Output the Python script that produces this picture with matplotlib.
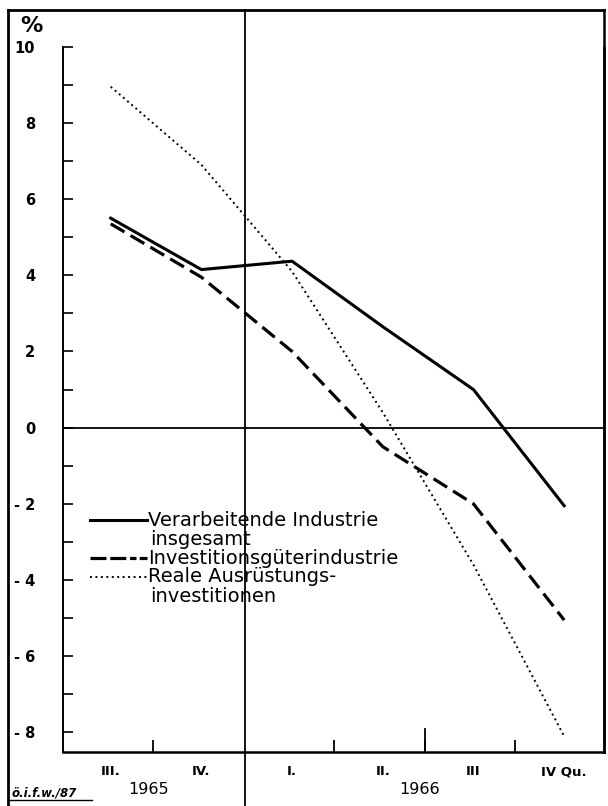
import matplotlib
matplotlib.use("Agg")
import matplotlib.pyplot as plt
from matplotlib.lines import Line2D
from matplotlib.ticker import FixedLocator, FixedFormatter
import numpy as np

# ---- data ----
quarters = ["III.", "IV.", "I.", "II.", "III", "IV Qu."]
years = ["1965", "1966"]
verarbeitende = [5.5, 4.15, 4.37, 2.65, 1.0, -2.05]
investitionsgueter = [5.35, 3.95, 2.0, -0.5, -2.0, -5.05]
ausruestung = [8.95, 6.9, 4.1, 0.4, -3.6, -8.1]
ytick_values = [-8, -6, -4, -2, 0, 2, 4, 6, 8, 10]
ytick_labels = ["- 8", "- 6", "- 4", "- 2", "0", "2", "4", "6", "8", "10"]
legend_labels = ["Verarbeitende Industrie\ninsgesamt",
                 "Investitionsgüterindustrie",
                 "Reale Ausrüstungs-\ninvestitionen"]
source_note = "ö.i.f.w./87"

W, H = 608, 806
fig = plt.figure(figsize=(W / 100, H / 100), dpi=100)
fig.patch.set_facecolor("white")

def fx(px):
    return px / W

def fy(py):
    return 1 - py / H

left_px, right_px, top_px, bot_px = 63, 604, 46.7, 751.5
ax = fig.add_axes([fx(left_px), fy(bot_px), fx(right_px) - fx(left_px), fy(top_px) - fy(bot_px)])

x = np.arange(len(quarters))
ax.set_xlim(-0.526, 5.439)
ax.set_ylim(-8.5, 10)

ax.plot(x, verarbeitende, color="black", lw=2.2, solid_joinstyle="round")
ax.plot(x, investitionsgueter, color="black", lw=2.3, linestyle=(0, (5, 2.2)))
ax.plot(x, ausruestung, color="black", lw=1.4, linestyle=(0, (1, 1.8)))

ax.axhline(0, color="black", lw=1.3)

ax.spines["top"].set_visible(False)
ax.spines["left"].set_linewidth(1.4)
ax.spines["bottom"].set_linewidth(1.8)
ax.spines["right"].set_linewidth(1.8)

# y ticks
ax.yaxis.set_major_locator(FixedLocator(ytick_values))
ax.yaxis.set_major_formatter(FixedFormatter(ytick_labels))
ax.yaxis.set_minor_locator(FixedLocator(list(range(-7, 10, 2))))
ax.tick_params(axis="y", which="both", direction="in", length=7.5, width=1.2,
               right=False, pad=20)
ax.tick_params(axis="y", which="major", labelsize=10.5)
for lab in ax.get_yticklabels():
    lab.set_fontweight("bold")

# x ticks: categories as labels, separators as minor ticks
sep = [0.47, 2.46, 3.46, 4.46]
ax.xaxis.set_major_locator(FixedLocator(list(x)))
ax.xaxis.set_major_formatter(FixedFormatter(quarters))
ax.xaxis.set_minor_locator(FixedLocator(sep))
ax.tick_params(axis="x", which="major", length=0, pad=10, labelsize=9.5)
for lab in ax.get_xticklabels():
    lab.set_fontweight("bold")
ax.tick_params(axis="x", which="minor", direction="in", length=8.5, width=1.3)
ax.plot([3.46, 3.46], [0, 23 / (bot_px - top_px)], color="black", lw=1.3,
        transform=ax.get_xaxis_transform(), clip_on=False)

# frame and year divider
fig.add_artist(Line2D([fx(8), fx(8)], [fy(10), 0], color="black", lw=2.0))
fig.add_artist(Line2D([fx(8), fx(604)], [fy(10), fy(10)], color="black", lw=2.0))
fig.add_artist(Line2D([fx(604), fx(604)], [fy(10), fy(bot_px)], color="black", lw=1.8))
div_x = ax.transData.transform((1.48, 0))[0] / W
fig.add_artist(Line2D([div_x, div_x], [fy(10), 0], color="black", lw=1.3))

# percent sign
fig.text(fx(31), fy(26), "%", fontsize=16, fontweight="bold", ha="center", va="center")

# years
fig.text(fx(149), fy(790), years[0], fontsize=11.5, ha="center", va="center")
fig.text(fx(420), fy(790), years[1], fontsize=11.5, ha="center", va="center")

# source note
fig.text(fx(12), fy(796), source_note, fontsize=8.5, style="italic", fontweight="bold",
         ha="left", va="baseline")
fig.add_artist(Line2D([fx(9), fx(92)], [fy(800), fy(800)], color="black", lw=1.0))

# legend (manual)
leg_fs = 14
lx0, lx1, tx = 90, 147, 148
styles = [dict(lw=2.2, linestyle="-"),
          dict(lw=2.3, linestyle=(0, (5, 1.2, 5, 1.2, 2, 1))),
          dict(lw=1.4, linestyle=(0, (1, 1.8)))]
sample_y = [520, 558, 577]
text_base = [526, 564, 582.5]
line_gap = 19
for lbl, st, sy, tb in zip(legend_labels, styles, sample_y, text_base):
    fig.add_artist(Line2D([fx(lx0), fx(lx1)], [fy(sy), fy(sy)], color="black", **st))
    for k, part in enumerate(lbl.split("\n")):
        fig.text(fx(tx + (2 if k else 0)), fy(tb + k * line_gap), part,
                 fontsize=leg_fs, ha="left", va="baseline")

fig.savefig("out.png", dpi=100, facecolor="white")
